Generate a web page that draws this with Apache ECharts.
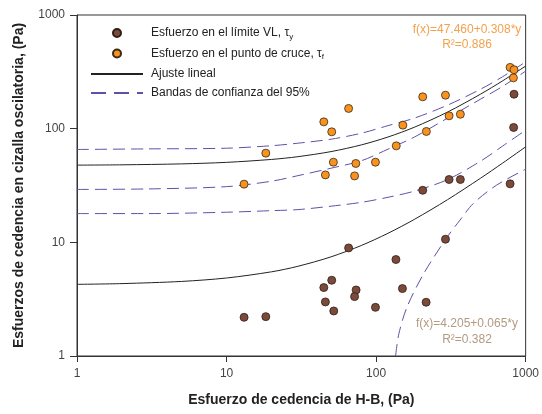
<!DOCTYPE html>
<html>
<head>
<meta charset="utf-8">
<script src="https://cdn.jsdelivr.net/npm/echarts@6/dist/echarts.min.js"></script>
<style>
html,body{margin:0;padding:0;background:#fff;}
#chart{width:542px;height:414px;}
</style>
</head>
<body>
<div id="chart"></div>
<script>
// ---- data ----
// Esfuerzo en el límite VL (brown)
const vlX = [836, 831, 787, 307.6, 366, 205, 291, 65.5, 135.7, 50.5, 44.7, 73.5, 71.8, 150, 45.8, 216, 99, 52.1, 13.1, 18.3];
const vlY = [201, 102.5, 32.7, 35.7, 35.7, 28.7, 10.65, 8.93, 7.06, 4.64, 4.0, 3.81, 3.33, 3.92, 2.99, 2.97, 2.68, 2.49, 2.19, 2.22];
// Esfuerzo en el punto de cruce (orange)
const cruceX = [13.1, 18.3, 44.7, 50.5, 45.8, 51.8, 65.5, 73.2, 71.8, 99, 136.4, 151, 205, 216.8, 291, 307.6, 366, 787, 836, 828];
const cruceY = [32.5, 60.9, 114.8, 93.8, 39.2, 50.7, 150.6, 49.4, 38.4, 50.7, 70.6, 107.4, 190.6, 94.5, 197, 129.7, 134, 346, 330, 280];

// fitted equations printed on the chart: f(x) = a + b*x
const fitCruceA = 47.460, fitCruceB = 0.308;
const fitVLA = 4.205, fitVLB = 0.065;
const fitX = [1, 2, 5, 10, 20, 30, 50, 80, 120, 180, 300, 500, 700, 1000];

// 95% confidence bands
const bandX = [1, 3, 10, 20, 30, 50, 80, 120, 180, 300, 500, 700, 1000];
const cruceUpper = [65.6, 66.4, 67.3, 70.8, 74.5, 80.8, 91.3, 106.3, 123.7, 160.9, 222.6, 286, 387];
const cruceLower = [29.2, 29.5, 30.9, 34.5, 38.6, 44.9, 52.3, 66.0, 84.3, 123.8, 182, 235, 321];
const vlUpper = [17.9, 17.9, 18.4, 19.0, 19.4, 20.8, 22.5, 24.9, 28.2, 35.6, 51.8, 70.2, 97.0];
const vlLowerX = [135, 142, 161, 208, 294, 364, 447, 638, 1000];
const vlLower = [1.0, 1.57, 2.7, 5.3, 10.8, 15.7, 22.0, 31.8, 44.0];

const xTicks = ['1', '10', '100', '1000'];
const yTicks = ['1', '10', '100', '1000'];

const names = {
  vl: 'Esfuerzo en el límite VL',
  cruce: 'Esfuerzo en el punto de cruce',
  fit: 'Ajuste lineal',
  band: 'Bandas de confianza del 95%'
};
const annTop = ['f(x)=47.460+0.308*y', 'R²=0.886'];
const annBottom = ['f(x)=4.205+0.065*y', 'R²=0.382'];

// ---- build ----
const zip = (xs, ys) => xs.map((x, i) => [x, ys[i]]);
const fitCruce = fitX.map(x => [x, fitCruceA + fitCruceB * x]);
const fitVL = fitX.map(x => [x, fitVLA + fitVLB * x]);

const FONT = 'Liberation Sans, Arial, sans-serif';
const PURPLE = '#5f50a8';
const dashStyle = { color: PURPLE, width: 1, type: [12, 6] };
const solidStyle = { color: '#222', width: 1 };

const chart = echarts.init(document.getElementById('chart'), null, { renderer: 'canvas' });

function lineSeries(name, data, style, smooth) {
  return {
    name: name, type: 'line', data: data, showSymbol: false, symbol: 'none',
    smooth: smooth, lineStyle: style, itemStyle: { color: style.color },
    z: 2, silent: true, clip: true
  };
}

function annText(t, y, color) {
  return { type: 'text', style: { text: t, x: 467, y: y, fill: color, font: '12px ' + FONT, textAlign: 'center', textVerticalAlign: 'middle' } };
}

const option = {
  animation: false,
  textStyle: { fontFamily: FONT },
  grid: {
    left: 77, right: 13, top: 15, bottom: 58,
    show: true, borderColor: '#333', borderWidth: 1, backgroundColor: 'transparent'
  },
  legend: {
    orient: 'vertical', left: 85, top: 22, itemWidth: 52, itemHeight: 8, itemGap: 7,
    selectedMode: false,
    textStyle: {
      fontFamily: FONT, fontSize: 12, color: '#222', padding: [0, 0, 0, 3],
      rich: {
        t: { fontFamily: FONT, fontSize: 12, color: '#222' },
        s: { fontFamily: FONT, fontSize: 8, color: '#222', padding: [7, 0, 0, 0] }
      }
    },
    data: [
      { name: names.vl, icon: 'circle' },
      { name: names.cruce, icon: 'circle' },
      { name: names.fit, itemStyle: { opacity: 0 } },
      { name: names.band, itemStyle: { opacity: 0 }, lineStyle: { type: [15, 8] } }
    ],
    formatter: function (n) {
      if (n === names.vl) return '{t|' + n + ', τ}{s|y}';
      if (n === names.cruce) return '{t|' + n + ', τ}{s|f}';
      return n;
    }
  },
  xAxis: {
    type: 'log', logBase: 10, min: 1, max: 1000,
    name: 'Esfuerzo de cedencia de H-B, (Pa)', nameLocation: 'middle', nameGap: 37,
    nameTextStyle: { fontFamily: FONT, fontSize: 14, fontWeight: 'bold', color: '#222' },
    axisLine: { lineStyle: { color: '#333', width: 1 } },
    axisTick: { show: true, inside: false, length: 6, lineStyle: { color: '#333' } },
    minorTick: { show: false },
    splitLine: { show: false },
    axisLabel: {
      fontFamily: FONT, fontSize: 12, color: '#444', margin: 12,
      formatter: function (v) { const i = Math.round(Math.log10(v)); return xTicks[i] !== undefined ? xTicks[i] : ''; }
    }
  },
  yAxis: {
    type: 'log', logBase: 10, min: 1, max: 1000,
    name: 'Esfuerzos de cedencia en cizalla oscilatoria, (Pa)', nameLocation: 'middle', nameGap: 51,
    nameTextStyle: { fontFamily: FONT, fontSize: 14, fontWeight: 'bold', color: '#222' },
    axisLine: { lineStyle: { color: '#333', width: 1 } },
    axisTick: { show: true, inside: false, length: 7, lineStyle: { color: '#333' } },
    minorTick: { show: false },
    splitLine: { show: false },
    axisLabel: {
      fontFamily: FONT, fontSize: 12, color: '#444', margin: 12,
      formatter: function (v) { const i = Math.round(Math.log10(v)); return yTicks[i] !== undefined ? yTicks[i] : ''; }
    }
  },
  series: [
    lineSeries(names.fit, fitCruce, solidStyle, 0.3),
    lineSeries(names.fit, fitVL, solidStyle, 0.3),
    lineSeries(names.band, zip(bandX, cruceUpper), dashStyle, 0.3),
    lineSeries(names.band, zip(bandX, cruceLower), dashStyle, 0.3),
    lineSeries(names.band, zip(bandX, vlUpper), dashStyle, 0.3),
    lineSeries(names.band, zip(vlLowerX, vlLower), dashStyle, 0.3),
    {
      name: names.vl, type: 'scatter', data: zip(vlX, vlY), symbol: 'circle', symbolSize: 8,
      itemStyle: { color: '#7b4a3a', borderColor: '#2e1f18', borderWidth: 0.8, opacity: 1 }, z: 5
    },
    {
      name: names.cruce, type: 'scatter', data: zip(cruceX, cruceY), symbol: 'circle', symbolSize: 8,
      itemStyle: { color: '#f7931e', borderColor: '#3a2a18', borderWidth: 0.8, opacity: 1 }, z: 5
    }
  ],
  graphic: [
    annText(annTop[0], 30, '#f2a24e'),
    annText(annTop[1], 45, '#f2a24e'),
    annText(annBottom[0], 324, '#b39a82'),
    annText(annBottom[1], 340, '#b39a82')
  ]
};
chart.setOption(option);
</script>
</body>
</html>
